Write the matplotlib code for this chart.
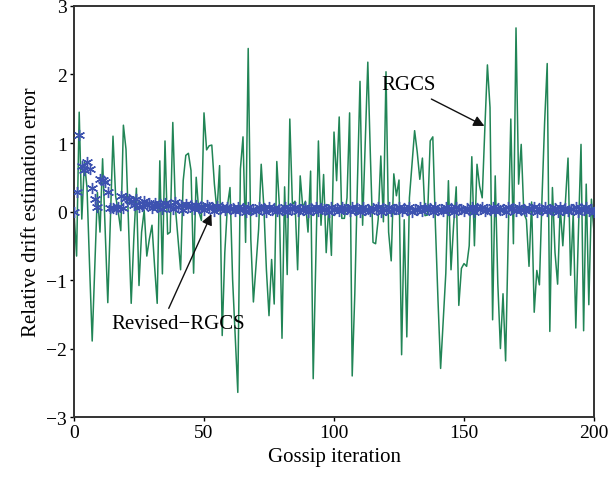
import matplotlib
matplotlib.use("Agg")
import matplotlib.pyplot as plt

# Gossip iterations 0..200
iterations = list(range(201))

# RGCS relative drift estimation error (green line)
rgcs = [
    0.0, -0.65, 1.45, -0.11, 0.72, 0.35, -0.8, -1.89, -0.8, 0.28,
    -0.3, 0.77, -0.3, -1.33, -0.1, 1.1, 0.23, 0.0, -0.28, 1.26,
    0.91, -0.2, -1.34, -0.4, 0.34, -1.08, -0.3, 0.02, -0.65, -0.4,
    -0.2, -0.8, -1.34, 0.74, -0.91, 1.03, -0.33, -0.3, 1.3, 0.06,
    -0.4, -0.85, 0.45, 0.82, 0.85, 0.6, -0.9, 0.5, 0.0, -0.13,
    1.44, 0.9, 0.96, 0.97, 0.4, 0.0, 0.67, -1.81, -0.6, 0.08,
    0.35, -0.99, -1.8, -2.64, 0.62, 1.09, -0.45, 2.38, -0.4, -1.32,
    -0.8, -0.26, 0.69, 0.08, -0.85, -1.52, -0.7, -1.35, 0.73, 0.08,
    -1.85, 0.36, -0.92, 1.35, 0.1, 0.15, -0.85, 0.52, 0.05, 0.15,
    -0.3, 0.59, -2.44, -0.7, 1.03, -0.2, 0.54, -0.6, 0.1, -0.64,
    1.16, 0.45, 1.38, -0.1, -0.1, 0.2, 1.44, -2.4, -1.2, 0.4,
    1.9, -0.2, 1.0, 2.18, 0.8, -0.45, -0.47, -0.11, 0.81, -0.15,
    2.04, -0.3, -0.72, 0.55, 0.23, 0.46, -2.09, -0.12, -1.83, 0.2,
    0.7, 1.18, 0.87, 0.47, 0.78, -0.06, -0.05, 1.03, 1.09, -0.2,
    -1.3, -2.29, -1.6, -0.9, 0.45, -0.85, -0.2, 0.36, -1.37, -0.83,
    -0.76, -0.8, -0.5, 0.8, -0.5, 0.69, 0.37, 0.2, 1.2, 2.14,
    1.52, -1.58, 0.52, -1.05, -2.0, -1.2, -2.18, -0.37, 1.35, -0.47,
    2.68, 0.4, 0.98, -0.02, -0.12, -0.8, 0.14, -1.47, -0.86, -1.07,
    0.2, 1.3, 2.16, -1.75, 0.35, -0.6, -1.06, 0.07, -0.5, 0.15,
    0.78, -0.93, -0.02, -1.7, -0.3, 0.98, -1.74, 0.4, -1.36, 0.18,
    -0.3,
]

# Revised-RGCS error (blue asterisks)
revised = [
    0.0, 0.28, 1.12, 0.67, 0.6, 0.72, 0.62, 0.35, 0.18, 0.07,
    0.47, 0.46, 0.43, 0.28, 0.05, 0.05, 0.04, 0.06, 0.23, 0.05,
    0.2, 0.18, 0.15, 0.1, 0.18, 0.06, 0.08, 0.15, 0.1, 0.12,
    0.05, 0.13, 0.07, 0.11, 0.04, 0.12, 0.08, 0.1, 0.03, 0.14,
    0.06, 0.1, 0.02, 0.11, 0.07, 0.09, 0.03, 0.1, 0.05, 0.08,
    0.02, 0.09, 0.06, 0.07, 0.01, 0.08, 0.04, 0.07, 0.02, 0.06,
    0.03, 0.05, 0.01, 0.06, 0.02, 0.05, 0.0, 0.06, 0.02, 0.04,
    0.01, 0.06, 0.03, 0.05, 0.0, 0.06, 0.02, 0.05, 0.01, 0.04,
    0.02, 0.06, 0.0, 0.05, 0.03, 0.06, 0.01, 0.04, 0.02, 0.06,
    0.0, 0.05, 0.02, 0.06, 0.01, 0.05, 0.03, 0.04, 0.0, 0.06,
    0.02, 0.05, 0.01, 0.06, 0.03, 0.04, 0.01, 0.06, 0.02, 0.05,
    0.0, 0.06, 0.02, 0.04, 0.01, 0.05, 0.03, 0.06, 0.0, 0.05,
    0.02, 0.06, 0.01, 0.04, 0.03, 0.06, 0.01, 0.05, 0.02, 0.06,
    0.0, 0.04, 0.02, 0.06, 0.01, 0.05, 0.03, 0.05, 0.0, 0.06,
    0.02, 0.04, 0.01, 0.06, 0.02, 0.05, 0.0, 0.06, 0.03, 0.04,
    0.01, 0.05, 0.02, 0.06, 0.0, 0.05, 0.03, 0.06, 0.01, 0.04,
    0.02, 0.06, 0.01, 0.05, 0.02, 0.04, 0.0, 0.06, 0.03, 0.05,
    0.01, 0.06, 0.02, 0.04, 0.01, 0.05, 0.03, 0.06, 0.0, 0.05,
    0.02, 0.06, 0.01, 0.04, 0.02, 0.05, 0.0, 0.06, 0.02, 0.05,
    0.01, 0.04, 0.03, 0.06, 0.0, 0.05, 0.02, 0.06, 0.01, 0.04,
    0.0,
]

x_ticks = [0, 50, 100, 150, 200]
y_ticks = [-3, -2, -1, 0, 1, 2, 3]

plt.rcParams['font.family'] = ['Liberation Serif', 'DejaVu Serif']
plt.rcParams['font.size'] = 15

fig = plt.figure(figsize=(6.08, 4.85), dpi=100)
ax = fig.add_axes([0.1217, 0.138, 0.8553, 0.8476])

ax.plot(iterations, rgcs, color='#218556', linewidth=1.1, zorder=2)
# MATLAB-style asterisk marker
ax.plot(iterations, revised, linestyle='none', marker=(6, 2, 0), markersize=8,
        markeredgecolor='#3d52b0', markeredgewidth=1.0, zorder=3)

ax.set_xlim(0, 200)
ax.set_ylim(-3, 3)
ax.set_xticks(x_ticks)
ax.set_yticks(y_ticks)
ax.set_yticklabels([str(v).replace('-', '\u2212') for v in y_ticks])
ax.tick_params(direction='out', length=3, width=1, labelsize=14, pad=2)
for s in ax.spines.values():
    s.set_linewidth(1.4)
    s.set_color('#333333')

ax.set_xlabel("Gossip iteration", fontsize=15, labelpad=4)
ax.set_ylabel("Relative drift estimation error", fontsize=15, labelpad=4)

# Annotations
ax.text(128.5, 1.85, "RGCS", fontsize=15, ha='center', va='center')
ax.annotate("", xy=(158.8, 1.23), xytext=(136.5, 1.66),
            arrowprops=dict(arrowstyle='-|>', color='#111111', lw=1.0,
                            mutation_scale=16))
ax.text(40, -1.63, "Revised\u2212RGCS", fontsize=15, ha='center', va='center')
ax.annotate("", xy=(53.3, 0.0), xytext=(36, -1.45),
            arrowprops=dict(arrowstyle='-|>', color='#111111', lw=1.0,
                            mutation_scale=16))

fig.savefig("out.png", dpi=100)
